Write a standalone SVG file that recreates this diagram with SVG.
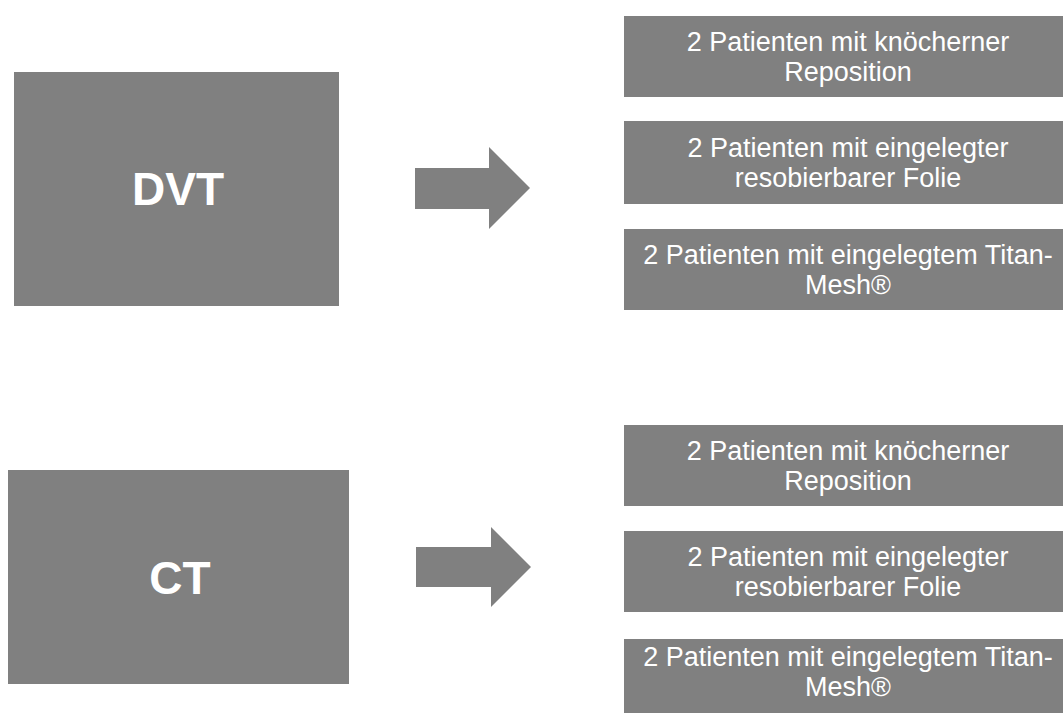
<svg xmlns="http://www.w3.org/2000/svg" width="1063" height="713" viewBox="0 0 1063 713">
<style>
.box{fill:#808080}
.big{font-family:"Liberation Sans",Arial,sans-serif;font-weight:bold;font-size:46px;fill:#fff;text-anchor:middle}
.lbl{font-family:"Liberation Sans",Arial,sans-serif;font-size:27px;fill:#fff;text-anchor:middle}
.arr{fill:#808080}
</style>
<rect width="1063" height="713" fill="#fff"/>
<g id="dvt"><rect class="box" x="14" y="72" width="325" height="234"/><text class="big" x="178" y="205">DVT</text></g>
<g id="ct"><rect class="box" x="8" y="470" width="341" height="214"/><text class="big" x="180" y="594">CT</text></g>
<g id="connectors">
<polygon class="arr" points="415,168 489,168 489,147 530,188 489,229 489,209 415,209"/>
<polygon class="arr" points="416,547 491,547 491,527 531,567 491,607 491,587 416,587"/>
</g>
<g id="dvt-a"><rect class="box" x="624" y="16" width="439" height="81"/><text class="lbl" x="848" y="51">2 Patienten mit knöcherner</text><text class="lbl" x="848" y="81">Reposition</text></g>
<g id="dvt-b"><rect class="box" x="624" y="121" width="439" height="83"/><text class="lbl" x="848" y="157">2 Patienten mit eingelegter</text><text class="lbl" x="848" y="187">resobierbarer Folie</text></g>
<g id="dvt-c"><rect class="box" x="624" y="229" width="439" height="81"/><text class="lbl" x="848" y="264">2 Patienten mit eingelegtem Titan-</text><text class="lbl" x="848" y="294">Mesh®</text></g>
<g id="ct-a"><rect class="box" x="624" y="425" width="439" height="81"/><text class="lbl" x="848" y="460">2 Patienten mit knöcherner</text><text class="lbl" x="848" y="490">Reposition</text></g>
<g id="ct-b"><rect class="box" x="624" y="531" width="439" height="81"/><text class="lbl" x="848" y="566">2 Patienten mit eingelegter</text><text class="lbl" x="848" y="596">resobierbarer Folie</text></g>
<g id="ct-c"><rect class="box" x="624" y="639" width="439" height="74"/><text class="lbl" x="848" y="666">2 Patienten mit eingelegtem Titan-</text><text class="lbl" x="848" y="696">Mesh®</text></g>
</svg>
